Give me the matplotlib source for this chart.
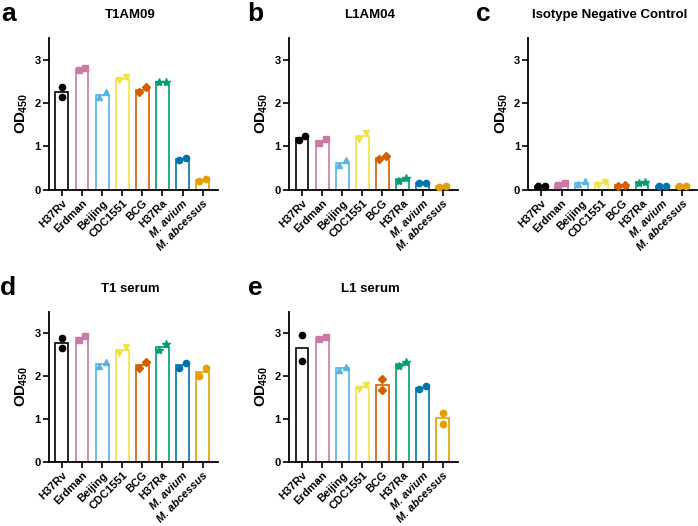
import matplotlib
matplotlib.use('Agg')
import matplotlib.pyplot as plt
import numpy as np

plt.rcParams['font.family'] = ['Liberation Sans', 'DejaVu Sans']
plt.rcParams['font.weight'] = 'bold'
plt.rcParams['mathtext.fontset'] = 'custom'
plt.rcParams['mathtext.rm'] = 'Liberation Sans:bold'
plt.rcParams['mathtext.bf'] = 'Liberation Sans:bold'

strains = ['H37Rv', 'Erdman', 'Beijing', 'CDC1551', 'BCG', 'H37Ra', 'M. avium', 'M. abcessus']
colors = ['#000000', '#CC79A7', '#56B4E9', '#F0E442', '#D55E00', '#009E73', '#0072B2', '#E69F00']
markers = ['o', 's', '^', 'v', 'D', '*', 'o', 'o']

# two replicates per strain
t1am09 = [[2.37, 2.15], [2.77, 2.81], [2.14, 2.25], [2.52, 2.59], [2.25, 2.37], [2.48, 2.48], [0.69, 0.73], [0.21, 0.24]]
l1am04 = [[1.15, 1.25], [1.08, 1.18], [0.58, 0.68], [1.17, 1.31], [0.71, 0.77], [0.21, 0.27], [0.17, 0.17], [0.07, 0.09]]
isotype = [[0.09, 0.09], [0.12, 0.16], [0.14, 0.20], [0.12, 0.18], [0.10, 0.12], [0.17, 0.18], [0.10, 0.10], [0.08, 0.08]]
t1_serum = [[2.88, 2.65], [2.84, 2.93], [2.24, 2.32], [2.53, 2.67], [2.18, 2.34], [2.60, 2.75], [2.20, 2.30], [2.01, 2.19]]
l1_serum = [[2.96, 2.36], [2.87, 2.92], [2.15, 2.22], [1.71, 1.79], [1.93, 1.68], [2.24, 2.32], [1.70, 1.76], [1.15, 0.89]]

panels = [
    ('a', 'T1AM09', t1am09, [0.070, 0.639, 0.242, 0.289]),
    ('b', 'L1AM04', l1am04, [0.414, 0.639, 0.242, 0.289]),
    ('c', 'Isotype Negative Control', isotype, [0.757, 0.639, 0.242, 0.289]),
    ('d', 'T1 serum', t1_serum, [0.070, 0.122, 0.242, 0.285]),
    ('e', 'L1 serum', l1_serum, [0.414, 0.122, 0.242, 0.285]),
]

fig = plt.figure(figsize=(6.98, 5.26), dpi=100)
x = np.arange(len(strains))

for letter, title, data, pos in panels:
    ax = fig.add_axes(pos)
    vals = np.array(data)
    means = vals.mean(axis=1)
    for i in range(len(strains)):
        ax.bar(x[i], means[i], width=0.64, facecolor='white', edgecolor=colors[i], linewidth=1.2, zorder=2)
        # spread points sideways only when they would overlap
        if abs(vals[i, 0] - vals[i, 1]) < 0.2:
            offs = [-0.17, 0.17]
        else:
            offs = [0, 0]
        ms = 6 if markers[i] == '*' else 4.5
        for k in range(2):
            ax.plot(x[i] + offs[k], vals[i, k], marker=markers[i], color=colors[i], ms=ms,
                    linestyle='none', zorder=3, clip_on=False)
    ax.set_xlim(-0.65, 7.75)
    ax.set_ylim(0, 3.5)
    ax.set_yticks([0, 1, 2, 3])
    ax.set_xticks(x)
    ax.set_xticklabels(strains, rotation=45, ha='right', rotation_mode='anchor', fontsize=8)
    for lab in ax.get_xticklabels():
        if lab.get_text().startswith('M.'):
            lab.set_fontstyle('italic')
    ax.tick_params(axis='both', width=1.2, length=4, pad=2)
    ax.tick_params(axis='y', labelsize=8)
    for s in ['top', 'right']:
        ax.spines[s].set_visible(False)
    for s in ['left', 'bottom']:
        ax.spines[s].set_linewidth(1.3)
    ax.set_ylabel(r'$\mathbf{OD}_{\!\mathbf{450}}$', fontsize=11, labelpad=3)
    bb = ax.get_position()
    fig.text(bb.x0 + bb.width / 2 - 0.005, bb.y1 + 0.038, title, ha='center', va='baseline',
             fontsize=9.5, fontweight='bold')
    lx = bb.x0 - 0.058
    if letter in ('b', 'e'):
        lx = bb.x0 - 0.048
    if letter == 'c':
        lx = bb.x0 - 0.065
    fig.text(lx, bb.y1 + 0.033, letter, ha='center', va='baseline', fontsize=19, fontweight='bold')

fig.savefig('out.png', dpi=100)
